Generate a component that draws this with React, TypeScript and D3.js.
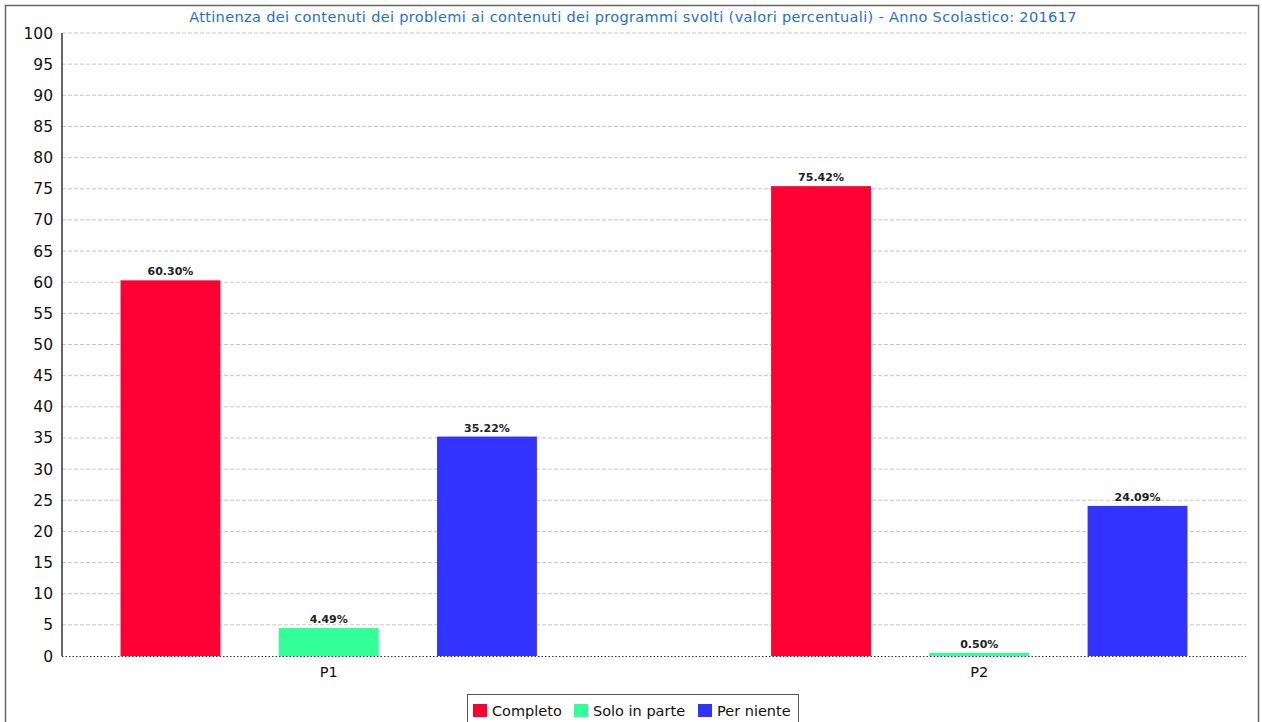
import React from "react";
import * as d3 from "d3";

const categories = ["P1", "P2"];
const seriesNames = ["Completo", "Solo in parte", "Per niente"];
const seriesColors = ["#FF0033", "#33FF99", "#3333FF"];
const completo = [60.3, 75.42];
const soloInParte = [4.49, 0.5];
const perNiente = [35.22, 24.09];
const yTicks = d3.range(0, 101, 5);
const title = "Attinenza dei contenuti dei problemi ai contenuti dei programmi svolti (valori percentuali) - Anno Scolastico: 201617";

const W = 1262, H = 722;
const plot = { left: 62, right: 1246, top: 33, bottom: 656 };
const font = "'DejaVu Sans', sans-serif";

export default function App() {
  const series = [completo, soloInParte, perNiente];
  const x0 = d3.scaleBand<string>().domain(categories).range([plot.left, plot.right]).paddingInner(0.36).paddingOuter(0.09);
  const x1 = d3.scaleBand<string>().domain(seriesNames).range([0, x0.bandwidth()]).paddingInner(0.369).paddingOuter(0);
  const y = d3.scaleLinear().domain([0, 100]).range([plot.bottom, plot.top]);

  const legendItems = seriesNames.map((n, i) => ({ n, c: seriesColors[i] }));
  const legendX = [473, 574, 698];

  return (
    <svg width={W} height={H} style={{ position: "absolute", left: 0, top: 0, background: "#fff" }} fontFamily={font}>
      <rect x={5.5} y={5.5} width={1253} height={730} fill="#fff" stroke="#666" strokeWidth={1.5} />
      <text x={633} y={22} textAnchor="middle" fontSize={14.5} letterSpacing={0.35} fill="#1f6fd1">{title}</text>
      {yTicks.map((t) => (
        <g key={t}>
          {t > 0 && (
            <line x1={plot.left} x2={plot.right} y1={y(t)} y2={y(t)} stroke="#c8c8c8" strokeDasharray="4,2" strokeWidth={1} />
          )}
          <text x={53} y={y(t) + 5.5} textAnchor="end" fontSize={15.5} fill="#111">{t}</text>
        </g>
      ))}
      {categories.map((c, ci) => (
        <g key={c}>
          {series.map((s, si) => {
            const bx = (x0(c) as number) + (x1(seriesNames[si]) as number);
            const by = y(s[ci]);
            return (
              <g key={si}>
                <rect x={bx} y={by} width={x1.bandwidth()} height={plot.bottom - by} fill={seriesColors[si]} />
                <text x={bx + x1.bandwidth() / 2} y={by - 5} textAnchor="middle" fontSize={11} fontWeight="bold" fill="#222">
                  {s[ci].toFixed(2) + "%"}
                </text>
              </g>
            );
          })}
          <text x={(x0(c) as number) + x0.bandwidth() / 2} y={677} textAnchor="middle" fontSize={14.5} fill="#111">{c}</text>
        </g>
      ))}
      <line x1={plot.left} x2={plot.left} y1={plot.top} y2={plot.bottom} stroke="#333" strokeWidth={1.5} />
      <line x1={plot.left} x2={plot.right} y1={plot.bottom + 0.5} y2={plot.bottom + 0.5} stroke="#333" strokeWidth={1.2} strokeDasharray="1.5,2" />
      <rect x={467.5} y={694.5} width={331} height={40} fill="#fff" stroke="#555" strokeWidth={1} />
      {legendItems.map((it, i) => (
        <g key={it.n}>
          <rect x={legendX[i]} y={704} width={14} height={13} fill={it.c} />
          <text x={legendX[i] + 19} y={716} fontSize={14.5} fill="#111">{it.n}</text>
        </g>
      ))}
    </svg>
  );
}
